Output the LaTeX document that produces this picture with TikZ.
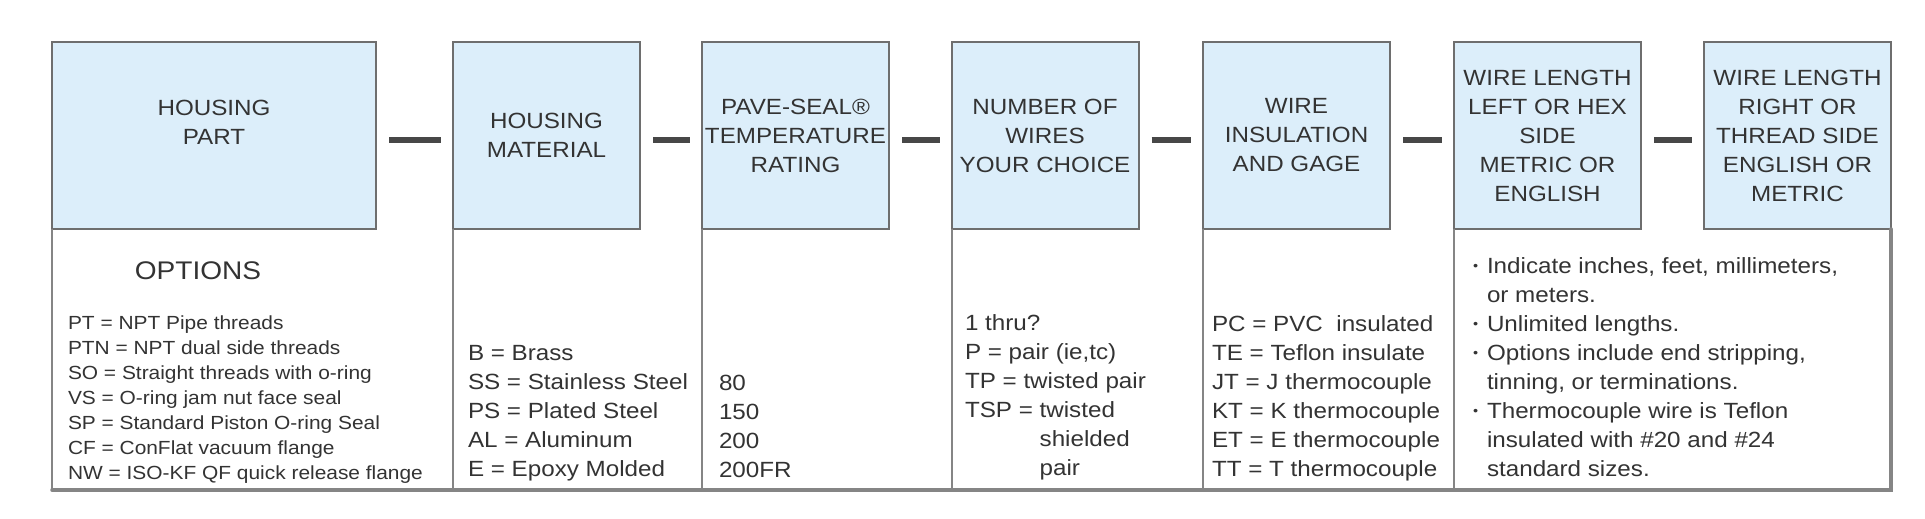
\documentclass[tikz,border=0pt]{standalone}
\usepackage{fontspec}
\setmainfont{Liberation Sans}[FakeStretch=1.1]
\usepackage{graphicx}
\usetikzlibrary{calc}
\definecolor{boxfill}{HTML}{DCEEFA}
\definecolor{boxline}{HTML}{6E6E6E}
\definecolor{gridline}{HTML}{858585}
\definecolor{txt}{HTML}{333333}
\definecolor{barcol}{HTML}{474747}
\newcommand{\mybul}{\makebox[14pt][l]{\raisebox{3pt}{\scalebox{0.6}{\textbullet}}}}
\newcommand{\myind}{\hspace*{14pt}}
\begin{document}
\begin{tikzpicture}[x=1pt,y=-1pt,
  hdr/.style={draw=boxline, line width=2pt, fill=boxfill, minimum width=187pt,
    minimum height=187pt, inner sep=0pt, outer sep=0pt, align=center, text=txt,
    font=\fontsize{22}{29}\selectfont},
  lst/.style={inner sep=0pt, outer sep=0pt, anchor=base west, text=txt,
    font=\fontsize{22}{29}\selectfont},
  small/.style={lst, font=\fontsize{19}{25}\selectfont},
  grid/.style={draw=gridline, line width=2pt},
  frame/.style={draw=gridline, line width=3.5pt, line cap=round},
  sepbar/.style={draw=barcol, line width=6pt}]
\useasboundingbox[fill=white] (0,0) rectangle (1925,519);
% header boxes
\node[hdr, minimum width=324pt] (b1) at (214,135.5) {};
\node[text=txt, align=center, inner sep=0pt, font=\fontsize{22}{29}\selectfont] (t1) at (214,122.5) {HOUSING\\PART};
\node[hdr] (b2) at (546.5,135.5) {HOUSING\\MATERIAL};
\node[hdr] (b3) at (795.5,135.5) {PAVE-SEAL\textregistered\\TEMPERATURE\\RATING};
\node[hdr] (b4) at (1045,135.5) {NUMBER OF\\WIRES\\YOUR CHOICE};
\node[hdr] (b5) at (1296.5,135.5) {WIRE\\INSULATION\\AND GAGE};
\node[hdr] (b6) at (1547.5,135.5) {WIRE LENGTH\\LEFT OR HEX\\SIDE\\METRIC OR\\ENGLISH};
\node[hdr] (b7) at (1797.5,135.5) {WIRE LENGTH\\RIGHT OR\\THREAD SIDE\\ENGLISH OR\\METRIC};
% separators
\foreach \a/\b in {b1/b2,b2/b3,b3/b4,b4/b5,b5/b6,b6/b7}{
  \draw[sepbar] ([xshift=13pt,yshift=-4.5pt]\a.east) -- ([xshift=-12pt,yshift=-4.5pt]\b.west);
}
% lower table
\coordinate (bot) at (0,490);
\foreach \n in {b1,b2,b3,b4,b5,b6}{
  \draw[grid] (\n.south west) -- (\n.south west |- bot);
}
\draw[frame] (b7.south east) -- (b7.south east |- bot) -- (b1.south west |- bot);
% options
\node[text=txt, inner sep=0pt, font=\fontsize{25.5}{30}\selectfont] (opth) at (198,271) {OPTIONS};
\node[small] (optl) at (68,329.5) {\begin{tabular}[t]{@{}l@{}}
PT = NPT Pipe threads\\
PTN = NPT dual side threads\\
SO = Straight threads with o-ring\\
VS = O-ring jam nut face seal\\
SP = Standard Piston O-ring Seal\\
CF = ConFlat vacuum flange\\
NW = ISO-KF QF quick release flange
\end{tabular}};
\node[lst] (mat) at (468,360) {\begin{tabular}[t]{@{}l@{}}
B = Brass\\
SS = Stainless Steel\\
PS = Plated Steel\\
AL = Aluminum\\
E = Epoxy Molded
\end{tabular}};
\node[lst] (tmp) at (719,390) {\begin{tabular}[t]{@{}l@{}}
80\\
150\\
200\\
200FR
\end{tabular}};
\node[lst] (wir) at (965,330) {\begin{tabular}[t]{@{}l@{}}
1 thru?\\
P = pair (ie,tc)\\
TP = twisted pair\\
TSP = twisted\\
\phantom{TSP = }shielded\\
\phantom{TSP = }pair
\end{tabular}};
\node[lst] (ins) at (1212,331) {\begin{tabular}[t]{@{}l@{}}
PC = PVC\ \ insulated\\
TE = Teflon insulate\\
JT = J thermocouple\\
KT = K thermocouple\\
ET = E thermocouple\\
TT = T thermocouple
\end{tabular}};
\node[lst] (len) at (1473,273) {\begin{tabular}[t]{@{}l@{}}
\mybul Indicate inches, feet, millimeters,\\
\myind or meters.\\
\mybul Unlimited lengths.\\
\mybul Options include end stripping,\\
\myind tinning, or terminations.\\
\mybul Thermocouple wire is Teflon\\
\myind insulated with \#20 and \#24\\
\myind standard sizes.
\end{tabular}};
\end{tikzpicture}
\end{document}
